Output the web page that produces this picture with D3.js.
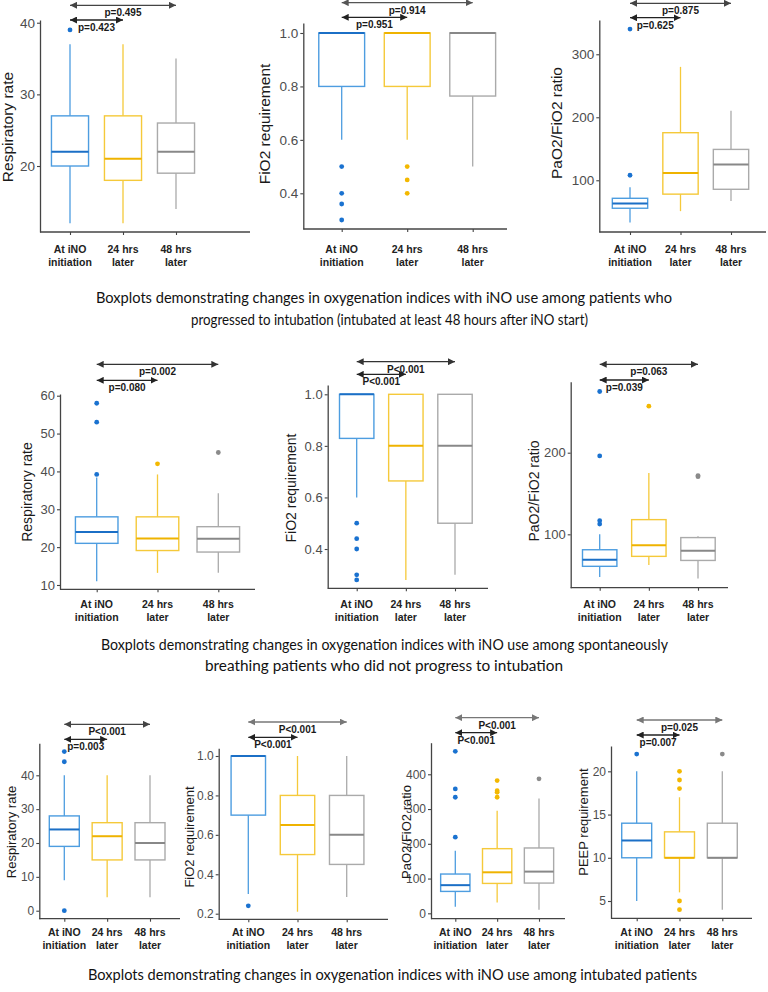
<!DOCTYPE html>
<html><head><meta charset="utf-8">
<script src="https://cdn.jsdelivr.net/npm/d3@7"></script>
<style>body{margin:0;background:#fff}svg{display:block}</style>
</head><body>
<svg id="chart" width="768" height="992"></svg>
<script>
// ---------- DATA ----------
const catLine1 = ["At iNO", "24 hrs", "48 hrs"];
const catLine2 = ["initiation", "later", "later"];

// box stats per group: [lower whisker, Q1, median, Q3, upper whisker]
// Row 1: progressed to intubation
const rrProg = [[12, 20, 22, 27, 37], [12, 18, 21, 27, 37], [14, 19, 22, 26, 35]];
const rrProgOut = [[39], [], []];
const fioProg = [[0.6, 0.8, 1.0, 1.0, 1.0], [0.6, 0.8, 1.0, 1.0, 1.0], [0.5, 0.764, 1.0, 1.0, 1.0]];
const fioProgOut = [[0.5, 0.4, 0.36, 0.3], [0.5, 0.45, 0.4], []];
const pfProg = [[33, 55.6, 63, 71.4, 89], [51, 78, 111.6, 175.5, 280], [67, 85.7, 125, 149, 210.5]];
const pfProgOut = [[108, 340], [], []];

// Row 2: spontaneously breathing, not intubated
const rrSpont = [[11, 21, 24, 28, 38.4], [13.2, 19.1, 22.3, 28, 39.2], [13.2, 18.7, 22.2, 25.4, 34.2]];
const rrSpontOut = [[39.2, 53, 58], [42], [45]];
const fioSpont = [[0.6, 0.829, 1.0, 1.0, 1.0], [0.28, 0.664, 0.8, 1.0, 1.0], [0.3, 0.5, 0.8, 1.0, 1.0]];
const fioSpontOut = [[0.5, 0.44, 0.4, 0.3, 0.28], [], []];
const pfSpont = [[47.7, 60.8, 68.9, 81.1, 100], [62.5, 73, 86.6, 118, 175], [46, 68, 80, 96, 97.6]];
const pfSpontOut = [[112.6, 116.7, 196, 275], [257], [170.6, 172]];

// Row 3: intubated patients
const rrIntub = [[9, 19, 24, 28, 40], [4, 15, 22, 26, 40], [4, 15, 20, 26, 40]];
const rrIntubOut = [[47, 44, 0], [], []];
const fioIntub = [[0.3, 0.7, 1.0, 1.0, 1.0], [0.21, 0.5, 0.65, 0.8, 1.0], [0.285, 0.45, 0.6, 0.8, 1.0]];
const fioIntubOut = [[0.24], [], []];
const pfIntub = [[19, 63, 81, 113, 180], [31, 86, 118, 186, 295], [10, 87, 120, 188, 330]];
const pfIntubOut = [[219, 334, 358, 466], [334, 348, 353, 382], [387]];
const peepIntub = [[5, 10, 12, 14, 20], [6, 10, 10, 13, 17], [4, 10, 10, 14, 20]];
const peepIntubOut = [[22], [4, 5, 18, 19, 20], [22]];

// tick values
const ticksRR1 = [20, 30, 40];
const ticksFiO2a = [0.4, 0.6, 0.8, 1.0];
const ticksPF1 = [100, 200, 300];
const ticksRR2 = [10, 20, 30, 40, 50, 60];
const ticksPF2 = [100, 200];
const ticksRR3 = [0, 10, 20, 30, 40];
const ticksFiO2b = [0.2, 0.4, 0.6, 0.8, 1.0];
const ticksPF3 = [0, 100, 200, 300, 400];
const ticksPEEP = [5, 10, 15, 20];

// p-value labels [vs 48 hrs (top arrow), vs 24 hrs (lower arrow)]
const pRR1 = ["p=0.495", "p=0.423"];
const pFiO21 = ["p=0.914", "p=0.951"];
const pPF1 = ["p=0.875", "p=0.625"];
const pRR2 = ["p=0.002", "p=0.080"];
const pFiO22 = ["P<0.001", "P<0.001"];
const pPF2 = ["p=0.063", "p=0.039"];
const pRR3 = ["P<0.001", "p=0.003"];
const pFiO23 = ["P<0.001", "P<0.001"];
const pPF3 = ["P<0.001", "P<0.001"];
const pPEEP3 = ["p=0.025", "p=0.007"];

const axisTitles = ["Respiratory rate", "FiO2 requirement", "PaO2/FiO2 ratio", "PEEP requirement"];

const captions = [
  "Boxplots demonstrating changes in oxygenation indices with iNO use among patients who",
  "progressed to intubation (intubated at least 48 hours after iNO start)",
  "Boxplots demonstrating changes in oxygenation indices with iNO use among spontaneously",
  "breathing patients who did not progress to intubation",
  "Boxplots demonstrating changes in oxygenation indices with iNO use among intubated patients"
];

// ---------- STYLE / LAYOUT ----------
const fills = {
  box: ["#4d9de0", "#f5c93a", "#aaaaaa"],
  med: ["#1b6fc6", "#efb300", "#888888"],
  dot: ["#1a72d0", "#f3b800", "#8a8a8a"]
};

const panels = [
  {stats: rrProg, out: rrProgOut, ticks: ticksRR1, fmt: "d", p: pRR1, title: axisTitles[0],
   L: {ax: 40, top: 20, bot: 232, xEnd: 250, c1: 70, c3: 176, lo: 10.79, hi: 40.38, aY: [5.3, 20], aC: "#444", tX: 8, tY: 127, tS: 15.5, kS: 13.5, cY: [253, 266]}},
  {stats: fioProg, out: fioProgOut, ticks: ticksFiO2a, fmt: ".1f", p: pFiO21, title: axisTitles[1],
   L: {ax: 303.3, top: 23, bot: 229, xEnd: 507, c1: 341.7, c3: 472.7, lo: 0.2664, hi: 1.0374, aY: [2.7, 17.3], aC: "#555", tX: 265, tY: 124, tS: 15.5, kS: 13.5, cY: [253, 266]}},
  {stats: pfProg, out: pfProgOut, ticks: ticksPF1, fmt: "d", p: pPF1, title: axisTitles[2],
   L: {ax: 599.3, top: 20, bot: 232, xEnd: 766, c1: 630, c3: 731, lo: 17.9, hi: 354.4, aY: [3.3, 17.7], aC: "#444", tX: 557, tY: 123, tS: 15.5, kS: 13.5, cY: [253, 266]}},
  {stats: rrSpont, out: rrSpontOut, ticks: ticksRR2, fmt: "d", p: pRR2, title: axisTitles[0],
   L: {ax: 60, top: 394, bot: 589.3, xEnd: 255, c1: 96.7, c3: 218.3, lo: 8.86, hi: 60.45, aY: [364.3, 380.3], aC: "#333", tX: 27, tY: 492, tS: 14, kS: 13, cY: [608, 621]}},
  {stats: fioSpont, out: fioSpontOut, ticks: ticksFiO2a, fmt: ".1f", p: pFiO22, title: axisTitles[1],
   L: {ax: 327.7, top: 385, bot: 588.3, xEnd: 488, c1: 356.7, c3: 455, lo: 0.2476, hi: 1.0361, aY: [361.7, 374.3], aC: "#333", tX: 291, tY: 488, tS: 14, kS: 13, cY: [608, 621]}},
  {stats: pfSpont, out: pfSpontOut, ticks: ticksPF2, fmt: "d", p: pPF2, title: axisTitles[2],
   L: {ax: 570.7, top: 381.7, bot: 587.7, xEnd: 728, c1: 599.7, c3: 698, lo: 34.6, hi: 287, aY: [364.3, 380], aC: "#333", tX: 534, tY: 491, tS: 14, kS: 13, cY: [608, 621]}},
  {stats: rrIntub, out: rrIntubOut, ticks: ticksRR3, fmt: "d", p: pRR3, title: axisTitles[0],
   L: {ax: 39.3, top: 743.3, bot: 918.7, xEnd: 180, c1: 64.3, c3: 150, lo: -2.36, hi: 49.45, aY: [724.3, 739.3], aC: "#444", tX: 11, tY: 832, tS: 13, kS: 12, cY: [936, 949]}},
  {stats: fioIntub, out: fioIntubOut, ticks: ticksFiO2b, fmt: ".1f", p: pFiO23, title: axisTitles[1],
   L: {ax: 218.7, top: 748.3, bot: 919.3, xEnd: 388, c1: 248.3, c3: 346.7, lo: 0.1716, hi: 1.039, aY: [722, 737.3], aC: "#777", tX: 189, tY: 837, tS: 13, kS: 12, cY: [936, 949]}},
  {stats: pfIntub, out: pfIntubOut, ticks: ticksPF3, fmt: "d", p: pPF3, title: axisTitles[2],
   L: {ax: 431, top: 742.7, bot: 918.7, xEnd: 565, c1: 455.3, c3: 539, lo: -15.5, hi: 490.9, aY: [717.7, 732.7], aC: "#777", tX: 406, tY: 832, tS: 13, kS: 12, cY: [936, 949]}},
  {stats: peepIntub, out: peepIntubOut, ticks: ticksPEEP, fmt: "d", p: pPEEP3, title: axisTitles[3],
   L: {ax: 611, top: 746, bot: 918.3, xEnd: 752, c1: 636.7, c3: 722.3, lo: 3.0, hi: 22.93, aY: [720, 735], aC: "#777", tX: 583, tY: 822, tS: 13, kS: 12, cY: [936, 949]}}
];

const captionLayout = [
  {x: 96, y: 303, w: 576}, {x: 191, y: 325, w: 397},
  {x: 101, y: 650, w: 567}, {x: 205, y: 671, w: 358},
  {x: 88, y: 980, w: 609}
];

const FONT = "'Liberation Sans', Arial, sans-serif";
const CAPFONT = "Lato, 'Open Sans', sans-serif";

// ---------- DRAW ----------
const svg = d3.select("#chart");
const defs = svg.append("defs");
let markerCount = 0;
function arrowMarker(color) {
  const id = "arr" + (markerCount++);
  defs.append("marker").attr("id", id).attr("viewBox", "0 0 10 10")
    .attr("refX", 10).attr("refY", 5).attr("markerWidth", 7).attr("markerHeight", 7)
    .attr("markerUnits", "userSpaceOnUse").attr("orient", "auto-start-reverse")
    .append("path").attr("d", "M0,0 L10,5 L0,10 Z").attr("fill", color);
  return id;
}
const darkMarker = arrowMarker("#222");

panels.forEach(pn => {
  const L = pn.L;
  const g = svg.append("g");
  const y = d3.scaleLinear().domain([L.lo, L.hi]).range([L.bot, L.top]);
  const x = d3.scalePoint().domain(catLine1).range([L.c1, L.c3]);
  const step = x.step();
  const bw = step * 0.7;

  // y axis
  const yAx = g.append("g").attr("transform", `translate(${L.ax},0)`)
    .call(d3.axisLeft(y).tickValues(pn.ticks).tickSize(3).tickSizeOuter(0).tickPadding(2)
      .tickFormat(d3.format(pn.fmt)));
  yAx.select(".domain").attr("stroke", "#444").attr("stroke-width", 1.3);
  yAx.selectAll(".tick line").attr("stroke", "#444").attr("stroke-width", 1.1);
  yAx.selectAll(".tick text").attr("fill", "#4d4d4d").style("font-size", L.kS + "px").style("font-family", FONT);

  // x axis line + ticks
  g.append("line").attr("x1", L.ax).attr("x2", L.xEnd).attr("y1", L.bot).attr("y2", L.bot)
    .attr("stroke", "#444").attr("stroke-width", 1.3);
  const xAx = g.append("g").attr("transform", `translate(0,${L.bot})`)
    .call(d3.axisBottom(x).tickSize(3).tickFormat(""));
  xAx.select(".domain").remove();
  xAx.selectAll(".tick line").attr("stroke", "#444").attr("stroke-width", 1.1);

  // category labels
  catLine1.forEach((c, i) => {
    const t = g.append("text").attr("x", x(c)).attr("text-anchor", "middle")
      .style("font-family", FONT).style("font-size", "10.5px").style("font-weight", "bold").attr("fill", "#222");
    t.append("tspan").attr("x", x(c)).attr("y", L.cY[0]).text(c);
    t.append("tspan").attr("x", x(c)).attr("y", L.cY[1]).text(catLine2[i]);
  });

  // axis title
  g.append("text").attr("transform", `translate(${L.tX},${L.tY}) rotate(-90)`)
    .attr("text-anchor", "middle").attr("dy", "0.35em")
    .style("font-family", FONT).style("font-size", L.tS + "px").attr("fill", "#1a1a1a").text(pn.title);

  // boxes
  pn.stats.forEach((s, i) => {
    const cx = x(catLine1[i]);
    const [wl, q1, md, q3, wh] = s;
    const col = fills.box[i];
    g.append("line").attr("x1", cx).attr("x2", cx).attr("y1", y(wl)).attr("y2", y(q1))
      .attr("stroke", col).attr("stroke-width", 1.3);
    g.append("line").attr("x1", cx).attr("x2", cx).attr("y1", y(q3)).attr("y2", y(wh))
      .attr("stroke", col).attr("stroke-width", 1.3);
    g.append("rect").attr("x", cx - bw / 2).attr("y", y(q3)).attr("width", bw)
      .attr("height", Math.max(0, y(q1) - y(q3))).attr("fill", "none")
      .attr("stroke", col).attr("stroke-width", 1.4);
    g.append("line").attr("x1", cx - bw / 2).attr("x2", cx + bw / 2).attr("y1", y(md)).attr("y2", y(md))
      .attr("stroke", fills.med[i]).attr("stroke-width", 2);
    g.selectAll(null).data(pn.out[i]).enter().append("circle")
      .attr("cx", cx).attr("cy", d => y(d)).attr("r", 2.4).attr("fill", fills.dot[i]);
  });

  // comparison arrows
  const x0 = x(catLine1[0]);
  const ends = [x(catLine1[2]), x(catLine1[1])];
  const topMarker = arrowMarker(L.aC);
  ends.forEach((xe, k) => {
    const ay = L.aY[k];
    const mk = k === 0 ? topMarker : darkMarker;
    g.append("line").attr("x1", x0).attr("x2", xe).attr("y1", ay).attr("y2", ay)
      .attr("stroke", k === 0 ? L.aC : "#222").attr("stroke-width", 1.3)
      .attr("marker-start", `url(#${mk})`).attr("marker-end", `url(#${mk})`);
    g.append("text").attr("x", (x0 + xe) / 2).attr("y", ay + 11).attr("text-anchor", "middle")
      .style("font-family", FONT).style("font-size", "10px").style("font-weight", "bold")
      .attr("fill", "#1a1a1a").text(pn.p[k]);
  });
});

// captions
captions.forEach((c, i) => {
  const cl = captionLayout[i];
  svg.append("text").attr("x", cl.x).attr("y", cl.y)
    .attr("textLength", cl.w).attr("lengthAdjust", "spacingAndGlyphs")
    .style("font-family", CAPFONT).style("font-size", "15.5px").attr("fill", "#111").text(c);
});
</script>
</body></html>
